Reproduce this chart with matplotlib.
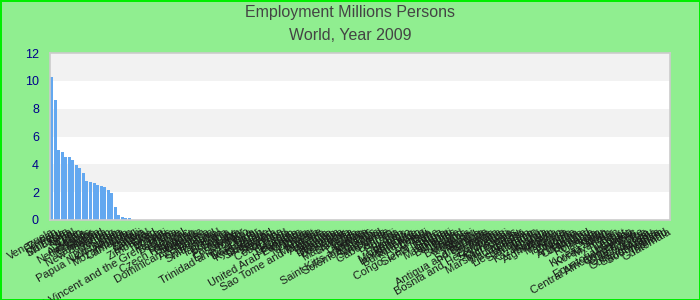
import numpy as np
import matplotlib
matplotlib.use("Agg")
import matplotlib.pyplot as plt

plt.rcParams['font.family'] = ['Liberation Sans', 'DejaVu Sans']

countries = [
    "Venezuela", "Taiwan", "Peru", "Malaysia", "Sri Lanka", "Syria", "Nepal", "Chile",
    "Sudan", "Australia", "Netherlands", "Ecuador", "Ghana", "Cambodia", "New Zealand",
    "Uganda", "Yemen", "Iraq", "Uzbekistan", "Papua New Guinea", "Angola", "Mozambique",
    "Cameroon", "Niger", "Mali", "Malawi", "Zambia", "Senegal", "Zimbabwe", "Chad",
    "Tunisia", "Bolivia", "Haiti", "Saint Vincent and the Grenadines", "Belgium", "Cuba",
    "Greece", "Portugal", "Czech Republic", "Hungary", "Sweden", "Belarus",
    "Dominican Republic", "Azerbaijan", "Austria", "Honduras", "Switzerland", "Israel",
    "Tajikistan", "Bulgaria", "Serbia", "Paraguay", "Laos", "Jordan", "El Salvador",
    "Trinidad and Tobago", "Libya", "Nicaragua", "East Timor", "Kyrgyzstan", "Denmark",
    "Singapore", "Finland", "Slovakia", "Norway", "Costa Rica", "Ireland", "Georgia",
    "Lebanon", "Panama", "United Arab Emirates", "Croatia", "Moldova", "Oman", "Kuwait",
    "Mongolia", "Sao Tome and Principe", "Armenia", "Albania", "Jamaica", "Lithuania",
    "Namibia", "Botswana", "Qatar", "Macedonia", "Slovenia", "Latvia", "Lesotho", "Gabon",
    "Estonia", "Saint Kitts and Nevis", "Solomon Islands", "Mauritius", "Swaziland",
    "Cyprus", "Cabo Verde", "Bahrain", "Fiji", "Guyana", "Bhutan", "Comoros", "Montenegro",
    "Luxembourg", "Suriname", "Burkina Faso", "Benin", "Burundi", "Togo",
    "Congo, Dem. Rep.", "Sierra Leone", "Eritrea", "Liberia", "Mauritania", "Djibouti",
    "Bahamas", "Belize", "Iceland", "Barbados", "Maldives", "Brunei", "Vanuatu", "Samoa",
    "Saint Lucia", "Antigua and Barbuda", "Grenada", "Tonga", "Dominica",
    "Bosnia and Herzegovina", "Seychelles", "Kiribati", "Micronesia", "Marshall Islands",
    "Palau", "Madagascar", "Andorra", "Liechtenstein", "Monaco", "San Marino", "Tuvalu",
    "Kazakhstan", "Rwanda", "Somalia", "Afghanistan", "Algeria", "Morocco", "Kenya",
    "Tanzania", "Ethiopia", "Nigeria", "Argentina", "Colombia", "Ukraine", "Poland",
    "Romania", "Canada", "Spain", "Italy", "Korea, South", "Korea, North", "Myanmar",
    "Iran", "Turkey", "Egypt", "Uruguay", "Equatorial Guinea", "Central African Republic",
    "Congo, Rep.", "Cote d'Ivoire", "Gambia, The", "Guinea", "Guinea-Bissau",
    "Saudi Arabia", "South Africa", "Vietnam", "Thailand", "Guatemala",
]

top_values = [10.3, 8.64, 5.04, 4.9, 4.54, 4.54, 4.32, 3.96, 3.74, 3.38, 2.81, 2.74,
              2.66, 2.52, 2.45, 2.38, 2.16, 1.94, 0.94, 0.36, 0.22, 0.14, 0.14, 0.02]
employment = top_values + [0.0] * (len(countries) - len(top_values))

yticks = [0, 2, 4, 6, 8, 10, 12]

fig = plt.figure(figsize=(7, 3), dpi=100, facecolor='#90ee90')
fig.patch.set_edgecolor('#00ee00')
fig.patch.set_linewidth(2)
ax = fig.add_axes([50 / 700, 80 / 300, 620 / 700, 167 / 300])
ax.set_facecolor('white')

for lo in (2, 6, 10):
    ax.axhspan(lo, lo + 2, color='#f2f2f2', lw=0, zorder=0)

x = np.arange(len(countries))
ax.bar(x, employment, width=0.85, color='#63a8f0', zorder=2)

ax.set_xlim(-0.5, len(countries) - 0.5)
ax.set_ylim(0, 12)
ax.set_yticks(yticks)
ax.tick_params(axis='y', length=0, labelsize=9, labelcolor='#00008b', pad=8)
ax.set_xticks(x)
ax.set_xticklabels(countries, rotation=30, ha='right', rotation_mode='anchor',
                   fontsize=8, color='#1a1a1a')
ax.tick_params(axis='x', length=0, pad=5)
for s in ax.spines.values():
    s.set_color('#cccccc')
    s.set_linewidth(1.2)

fig.text(0.5, 1 - 13 / 300, "Employment Millions Persons", ha='center', va='center',
         fontsize=11.5, color='#444444')
fig.text(0.5, 1 - 36 / 300, "World, Year 2009", ha='center', va='center',
         fontsize=11.5, color='#444444')

fig.savefig("out.png", dpi=100, facecolor=fig.get_facecolor(),
            edgecolor=fig.patch.get_edgecolor())
